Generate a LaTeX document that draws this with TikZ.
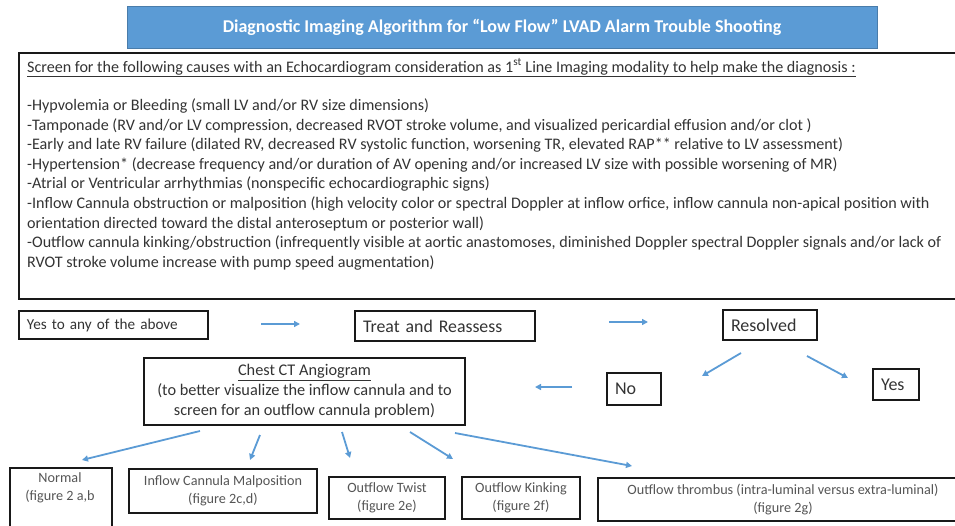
\documentclass[tikz,border=0pt]{standalone}
\usepackage{fontspec}
\setmainfont{Carlito}
\usetikzlibrary{arrows.meta}
\definecolor{titleblue}{HTML}{5B9BD5}
\definecolor{arrowblue}{HTML}{5B9BD5}
\definecolor{txt}{HTML}{333333}
\definecolor{txtlight}{HTML}{555555}
\begin{document}
\begin{tikzpicture}[x=1pt,y=-1pt,
  titlebox/.style={fill=titleblue, draw=titleblue!80!black, line width=0.5pt, text=white, inner sep=0pt,
    font=\fontsize{18}{20}\selectfont\bfseries},
  bx/.style={draw=black!90, line width=2pt, inner sep=0pt},
  lbox/.style={bx, align=left, inner xsep=8pt, text=txt, anchor=north west},
  cbox/.style={bx, align=center, text=txtlight, anchor=north west, font=\fontsize{14.2}{18.5}\selectfont},
  listline/.style={anchor=base west, inner sep=0pt, text=txt, font=\fontsize{16.1}{19.6}\selectfont},
  arr/.style={draw=arrowblue, line width=1.8pt, -{Triangle[length=6pt,width=6pt]}}
]
\useasboundingbox (0,0) rectangle (955,525);
\clip (0,0) rectangle (955,525);

% title
\node[titlebox, minimum width=750pt, minimum height=42pt] (title) at (502,27)
  {Diagnostic Imaging Algorithm for “Low Flow” LVAD Alarm Trouble Shooting};

% screening box
\node[bx, anchor=north west, minimum width=950pt, minimum height=246pt] (screen) at (18,52) {};
\node[listline] (l0) at (27,72) {\underline{Screen for the following causes with an Echocardiogram consideration as 1\textsuperscript{st} Line Imaging modality to help make the diagnosis :}};
\node[listline] (l1) at (27,110.5) {-Hypvolemia or Bleeding (small LV and/or RV size dimensions)};
\node[listline] (l2) at (27,130.1) {-Tamponade (RV and/or LV compression, decreased RVOT stroke volume, and visualized pericardial effusion and/or clot )};
\node[listline] (l3) at (27,149.7) {-Early and late RV failure (dilated RV, decreased RV systolic function, worsening TR, elevated RAP** relative to LV assessment)};
\node[listline] (l4) at (27,169.3) {-Hypertension* (decrease frequency and/or duration of AV opening and/or increased LV size with possible worsening of MR)};
\node[listline] (l5) at (27,188.9) {-Atrial or Ventricular arrhythmias (nonspecific echocardiographic signs)};
\node[listline] (l6) at (27,208.5) {-Inflow Cannula obstruction or malposition (high velocity color or spectral Doppler at inflow orfice, inflow cannula non-apical position with};
\node[listline] (l7) at (27,228.1) {orientation directed toward the distal anteroseptum or posterior wall)};
\node[listline] (l8) at (27,247.7) {-Outflow cannula kinking/obstruction (infrequently visible at aortic anastomoses, diminished Doppler spectral Doppler signals and/or lack of};
\node[listline] (l9) at (27,267.3) {RVOT stroke volume increase with pump speed augmentation)};

% flow row
\node[lbox, text width=173pt, minimum height=28pt, font=\fontsize{15.2}{17}\selectfont] (yesany) at (18,310) {Yes to any of the above};
\node[lbox, text width=164pt, minimum height=30pt, font=\fontsize{17.8}{19}\selectfont] (treat) at (354,310) {Treat and Reassess};
\node[lbox, text width=78pt, minimum height=30pt, font=\fontsize{18}{19}\selectfont] (resolved) at (722,309) {Resolved};
\node[lbox, text width=38pt, minimum height=32pt, font=\fontsize{18}{19}\selectfont] (no) at (606,372) {No};
\node[lbox, text width=30pt, minimum height=31pt, font=\fontsize{18}{19}\selectfont] (yes) at (872,368) {Yes};

\node[bx, anchor=north west, minimum width=321pt, minimum height=67pt, align=center, text=txt,
  font=\fontsize{16.3}{20}\selectfont] (ct) at (143,357)
  {\underline{Chest CT Angiogram}\\(to better visualize the inflow cannula and to\\screen for an outflow cannula problem)};

% bottom boxes
\node[bx, anchor=north west, minimum width=102pt, minimum height=80pt] (normal) at (9,467) {};
\node[align=center, text=txtlight, font=\fontsize{14.2}{18.5}\selectfont, inner sep=0pt] (normaltxt) at (60,488) {Normal\\(figure 2 a,b};
\node[cbox, minimum width=188pt, minimum height=44pt] (inflow) at (128,468) {Inflow Cannula Malposition\\(figure 2c,d)};
\node[cbox, minimum width=116pt, minimum height=42pt] (twist) at (328,476) {Outflow Twist\\(figure 2e)};
\node[cbox, minimum width=118pt, minimum height=42pt] (kink) at (461,476) {Outflow Kinking\\(figure 2f)};
\node[cbox, minimum width=370pt, minimum height=43pt] (thromb) at (597,477) {Outflow thrombus (intra-luminal versus extra-luminal)\\(figure 2g)};

% arrow end points
\coordinate (a1s) at (261,324); \coordinate (a1e) at (300,324);
\coordinate (a2s) at (609,322); \coordinate (a2e) at (648,322);
\coordinate (a3s) at (741,353); \coordinate (a3e) at (702,376);
\coordinate (a4s) at (807,356); \coordinate (a4e) at (848,378);
\coordinate (a5s) at (572,387); \coordinate (a5e) at (535,387);
\coordinate (b1s) at (200,431); \coordinate (b1e) at (82,460);
\coordinate (b2s) at (260,435); \coordinate (b2e) at (250,460);
\coordinate (b3s) at (342,432); \coordinate (b3e) at (350,458);
\coordinate (b4s) at (410,432); \coordinate (b4e) at (453,459);
\coordinate (b5s) at (455,433); \coordinate (b5e) at (632,466);

\foreach \s/\e in {a1s/a1e,a2s/a2e,a3s/a3e,a4s/a4e,a5s/a5e,b1s/b1e,b2s/b2e,b3s/b3e,b4s/b4e,b5s/b5e}
  \draw[arr] (\s) -- (\e);
\end{tikzpicture}
\end{document}
